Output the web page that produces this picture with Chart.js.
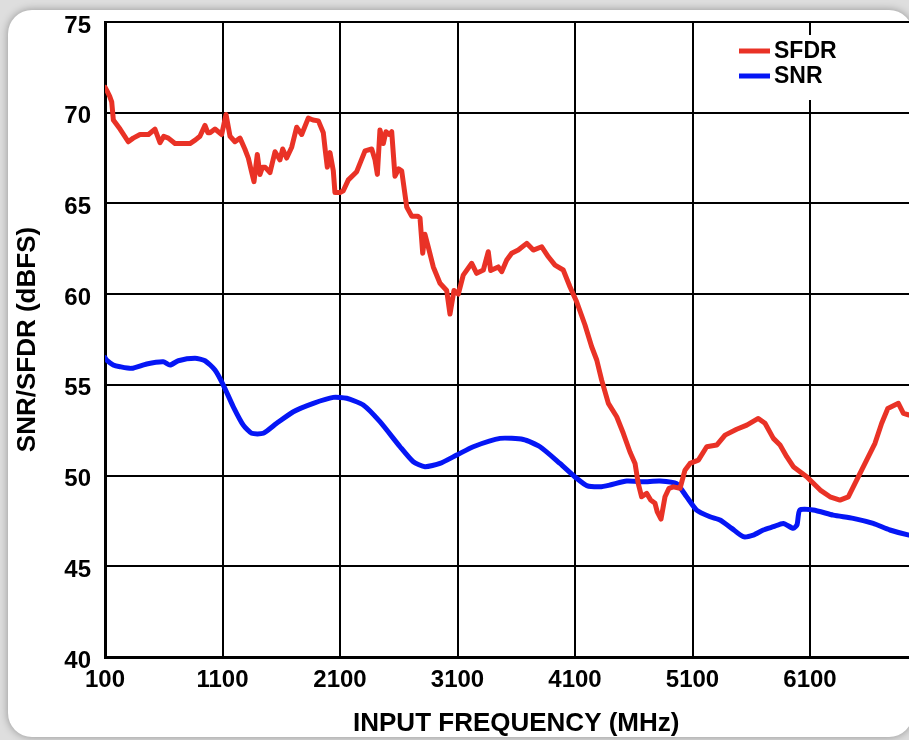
<!DOCTYPE html>
<html>
<head>
<meta charset="utf-8">
<script src="https://cdn.jsdelivr.net/npm/chart.js@4.4.0/dist/chart.umd.min.js"></script>
<style>
  html, body { margin: 0; padding: 0; width: 909px; height: 740px; overflow: hidden; background: #dedede; }
  #card { position: absolute; left: 8px; top: 10px; width: 905px; height: 727px; background: #fff; border-radius: 24px; box-shadow: 0 0 9px rgba(0,0,0,0.35); }
  #wrap { position: absolute; left: 0; top: 0; width: 940px; height: 740px; }
</style>
</head>
<body>
<div id="card"></div>
<div id="wrap"><canvas id="c" width="940" height="740"></canvas></div>
<script>
// ---- data ----
const sfdrFreq = [100,117,140,157,171,228,298,340,398,470,525,568,600,639,696,760,823,870,908,951,975,994,1036,1093,1130,1164,1206,1249,1290,1320,1345,1368,1396,1419,1440,1462,1504,1547,1589,1612,1646,1689,1731,1774,1830,1870,1916,1958,1975,1992,2015,2043,2057,2100,2128,2171,2242,2313,2370,2398,2418,2440,2469,2491,2520,2540,2568,2600,2625,2668,2710,2760,2781,2804,2823,2851,2894,2951,3008,3036,3070,3107,3149,3221,3263,3320,3362,3382,3447,3476,3519,3561,3617,3689,3745,3817,3873,3930,4000,4057,4114,4185,4242,4285,4327,4384,4455,4511,4568,4611,4638,4667,4710,4744,4781,4800,4832,4866,4900,4937,4994,5036,5079,5150,5221,5306,5377,5476,5562,5660,5717,5788,5845,5902,5958,6072,6187,6270,6355,6426,6497,6582,6653,6710,6762,6852,6895,6943,7000];
const sfdrVal  = [71.4,71.2,70.9,70.6,69.6,69.1,68.4,68.6,68.8,68.8,69.1,68.35,68.7,68.6,68.3,68.3,68.3,68.5,68.7,69.3,68.9,68.9,69.1,68.8,69.9,68.7,68.4,68.6,68.0,67.5,66.8,66.2,67.7,66.6,67.0,67.0,66.7,67.85,67.4,68.0,67.5,68.1,69.2,68.8,69.7,69.6,69.55,68.9,67.9,67.0,67.8,66.8,65.6,65.6,65.7,66.3,66.75,67.9,68.0,67.4,66.6,69.05,68.3,68.95,68.8,68.95,66.5,66.9,66.8,64.8,64.3,64.3,64.2,62.25,63.3,62.6,61.5,60.6,60.2,58.9,60.2,60.0,61.05,61.7,61.15,61.33,62.34,61.3,61.5,61.24,61.88,62.25,62.43,62.8,62.43,62.61,62.06,61.6,61.33,60.41,59.58,58.3,57.1,56.37,55.26,53.98,53.24,52.33,51.3,50.67,49.57,48.83,49.02,48.65,48.47,48.0,47.6,48.83,49.3,49.38,49.3,50.3,50.67,50.85,51.59,51.68,52.23,52.55,52.78,53.15,52.88,52.05,51.68,51.04,50.49,49.94,49.2,48.83,48.65,48.83,49.75,50.85,51.78,52.88,53.7,53.98,53.43,53.34,53.3];

const snrFreq = [100,114,170,228,327,455,596,653,724,866,951,1036,1107,1192,1277,1348,1447,1561,1703,1873,2043,2157,2298,2440,2611,2724,2823,2951,3093,3234,3462,3660,3802,3972,4114,4200,4313,4398,4540,4681,4823,4965,5050,5135,5249,5334,5434,5532,5617,5702,5788,5873,5958,5990,6013,6128,6298,6468,6638,6780,6943,7000];
const snrVal  = [56.5,56.37,56.1,56.0,55.91,56.15,56.27,56.09,56.33,56.46,56.33,55.82,54.99,53.79,52.78,52.33,52.33,52.88,53.52,53.98,54.31,54.26,53.89,52.97,51.59,50.76,50.49,50.67,51.13,51.59,52.05,51.99,51.59,50.67,49.85,49.45,49.38,49.48,49.7,49.66,49.7,49.55,48.83,48.1,47.73,47.55,47.09,46.63,46.72,47.0,47.18,47.36,47.09,47.3,48.1,48.1,47.82,47.64,47.36,47.0,46.72,46.7];

const seriesNames = ["SFDR", "SNR"];
const xTickValues = [100,1100,2100,3100,4100,5100,6100,7100];
const xTickLabels = ["100","1100","2100","3100","4100","5100","6100",""];
const yTickValues = [40,45,50,55,60,65,70,75];
const xTitle = "INPUT FREQUENCY (MHz)";
const yTitle = "SNR/SFDR (dBFS)";

// ---- styling ----
const RED = "rgb(233,50,38)";
const BLUE = "rgb(5,22,245)";
const FONT = "'Liberation Sans', Arial, Helvetica, sans-serif";

const toXY = (xs, ys) => xs.map((x, i) => ({x: x, y: ys[i]}));

const legendPlugin = {
  id: 'boxLegend',
  afterDatasetsDraw(chart) {
    const ctx = chart.ctx;
    ctx.save();
    ctx.fillStyle = '#fff';
    ctx.fillRect(736, 35, 116, 65);
    const items = [{name: seriesNames[0], color: RED, y: 51}, {name: seriesNames[1], color: BLUE, y: 76}];
    ctx.font = "bold 23px " + FONT;
    ctx.textBaseline = 'middle';
    ctx.textAlign = 'left';
    items.forEach(it => {
      ctx.strokeStyle = it.color;
      ctx.lineWidth = 5;
      ctx.beginPath();
      ctx.moveTo(739, it.y);
      ctx.lineTo(770, it.y);
      ctx.stroke();
      ctx.fillStyle = '#000';
      ctx.fillText(it.name, 774, it.y + 1);
    });
    ctx.restore();
  }
};

new Chart(document.getElementById('c'), {
  type: 'line',
  data: {
    datasets: [
      { label: seriesNames[0], data: toXY(sfdrFreq, sfdrVal), borderColor: RED, borderWidth: 5, pointRadius: 0, tension: 0, borderJoinStyle: 'round', borderCapStyle: 'round' },
      { label: seriesNames[1], data: toXY(snrFreq, snrVal), borderColor: BLUE, borderWidth: 5, pointRadius: 0, tension: 0.2, borderJoinStyle: 'round', borderCapStyle: 'round' }
    ]
  },
  options: {
    responsive: false,
    animation: false,
    layout: { padding: { top: 22, right: 12.5, bottom: 0, left: 0 } },
    plugins: { legend: { display: false }, tooltip: { enabled: false } },
    scales: {
      x: {
        type: 'linear',
        min: 100, max: 7100,
        afterBuildTicks: (s) => { s.ticks = xTickValues.map(v => ({value: v})); },
        afterFit: (s) => { s.height = 83; s.paddingLeft = 0; s.paddingRight = 0; },
        ticks: {
          autoSkip: false, maxRotation: 0, padding: 9,
          color: '#000',
          font: { family: FONT, size: 24, weight: 'bold' },
          callback: (v) => { const i = xTickValues.indexOf(v); return i >= 0 ? xTickLabels[i] : ''; }
        },
        grid: { color: '#000', lineWidth: 2, drawTicks: false },
        border: { color: '#000', width: 3 },
        title: { display: true, text: xTitle, color: '#000', font: { family: FONT, size: 26, weight: 'bold' }, padding: { top: 7, bottom: 1 } }
      },
      y: {
        min: 40, max: 75,
        afterBuildTicks: (s) => { s.ticks = yTickValues.map(v => ({value: v})); },
        afterFit: (s) => { s.width = 105; s.paddingTop = 0; s.paddingBottom = 0; },
        ticks: {
          padding: 14, labelOffset: 4, color: '#000',
          font: { family: FONT, size: 24, weight: 'bold' }
        },
        grid: { color: '#000', lineWidth: 2, drawTicks: false },
        border: { color: '#000', width: 3 },
        title: { display: true, text: yTitle, color: '#000', font: { family: FONT, size: 26, weight: 'bold' }, padding: { top: 12, bottom: 0 } }
      }
    }
  },
  plugins: [legendPlugin]
});
</script>
</body>
</html>
